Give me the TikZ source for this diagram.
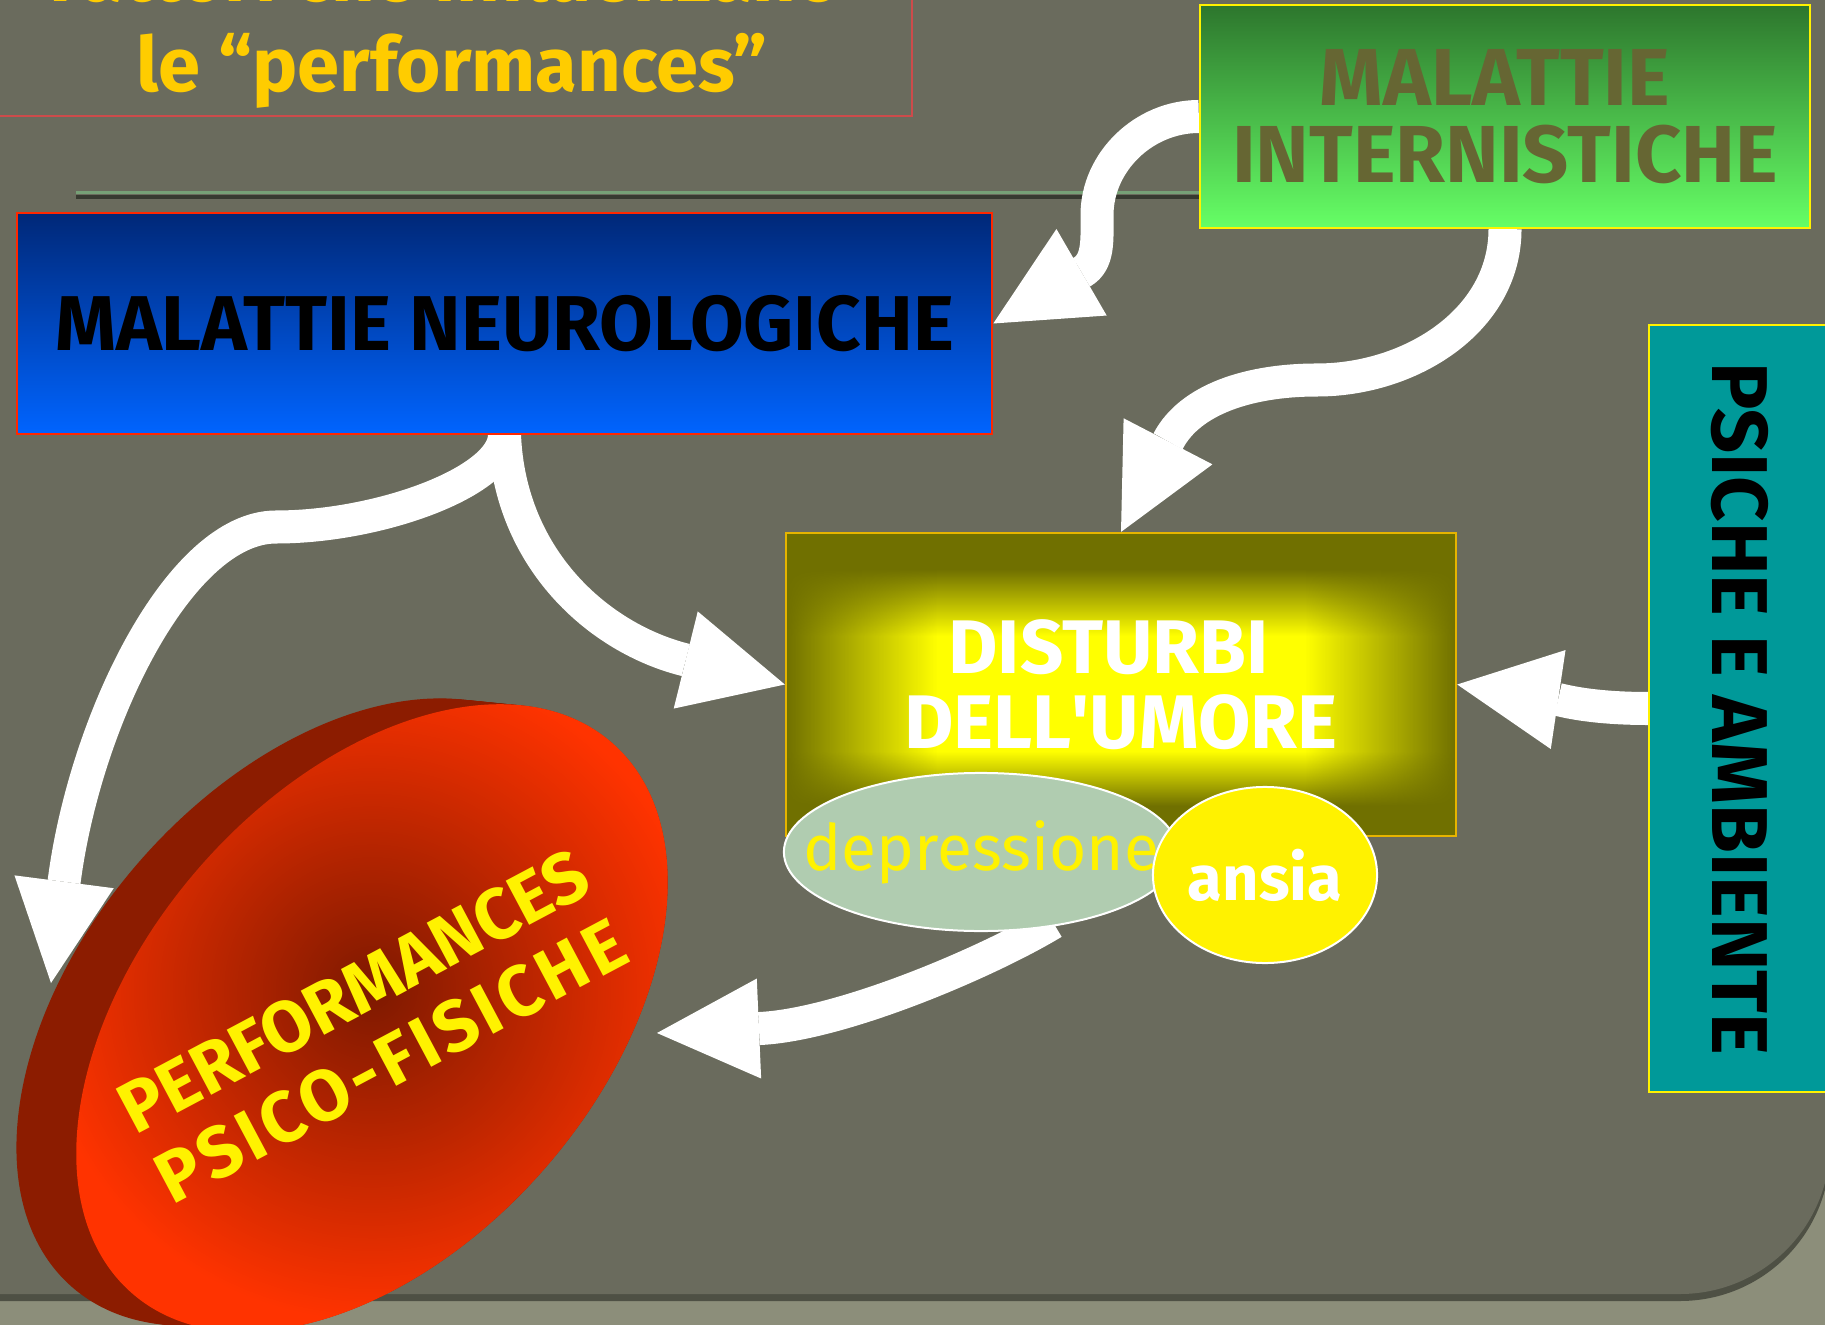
\documentclass[tikz,border=0pt]{standalone}
\usepackage{fontspec}
\setmainfont{Fira Sans}
\usetikzlibrary{shapes.geometric,arrows.meta,positioning,calc,fadings}
\definecolor{panel}{RGB}{106,107,93}
\definecolor{strip}{RGB}{140,142,122}
\definecolor{panelshade}{RGB}{78,80,68}
\definecolor{gold}{RGB}{255,204,0}
\definecolor{titlered}{RGB}{205,75,75}
\definecolor{rulegreen}{RGB}{118,160,118}
\definecolor{ruleshadow}{RGB}{55,58,48}
\definecolor{neurotop}{RGB}{0,40,120}
\definecolor{neurobot}{RGB}{0,100,255}
\definecolor{neuroframe}{RGB}{255,40,0}
\definecolor{interntop}{RGB}{45,118,45}
\definecolor{internbot}{RGB}{102,255,102}
\definecolor{interntext}{RGB}{102,102,51}
\definecolor{umorec}{RGB}{255,255,0}
\definecolor{umoree}{RGB}{112,112,0}
\definecolor{umoreframe}{RGB}{230,180,0}
\definecolor{deprfill}{RGB}{176,204,176}
\definecolor{psichefill}{RGB}{0,153,153}
\definecolor{discbright}{RGB}{255,51,0}
\definecolor{discdeep}{RGB}{125,25,0}
\definecolor{discrim}{RGB}{140,28,0}
\pgfdeclarelayer{back}
\pgfdeclarelayer{bg}
\pgfsetlayers{back,bg,main}
\pgfdeclareverticalshading{umorev}{100bp}{color(0bp)=(umoree); color(30bp)=(umoree); color(39bp)=(umorec); color(58bp)=(umorec); color(69bp)=(umoree); color(100bp)=(umoree)}
\tikzfading[name=fadeleft,left color=transparent!0,right color=transparent!100]
\tikzfading[name=faderight,left color=transparent!100,right color=transparent!0]

\begin{document}
\begin{tikzpicture}[x=0.01cm,y=-0.01cm,
  every node/.style={font=\bfseries},
  box/.style={rectangle,inner sep=0pt,line width=0.02cm},
  titletext/.style={text=gold,font=\bfseries\fontsize{21.6pt}{25pt}\selectfont},
  umoreglow/.style={path picture={
    \shade[shading=umorev]
      (path picture bounding box.north west) rectangle (path picture bounding box.south east);
    \fill[umoree,path fading=fadeleft]
      (path picture bounding box.north west) rectangle ([xshift=1.51cm]path picture bounding box.south west);
    \fill[umoree,path fading=faderight]
      ([xshift=-1.51cm]path picture bounding box.north east) rectangle (path picture bounding box.south east);}},
  bigarrow/.style={white,line width=0.33cm,line join=round,-{Triangle[length=1.02cm,width=1cm,line width=0pt]}}]
\useasboundingbox (0,0) rectangle (1825,1325);
\begin{pgfonlayer}{back}
\fill[strip] (0,0) rectangle (1825,1325);
\fill[panelshade] (-60,-60) -- (1830,-60) [rounded corners=1.5cm] -- (1830,1301) [sharp corners] -- (-60,1301) -- cycle;
\fill[panel] (-60,-60) -- (1830,-60) [rounded corners=1.5cm] -- (1830,1294) [sharp corners] -- (-60,1294) -- cycle;
\draw[ruleshadow,line width=0.04cm] (76,197) -- (1200,197);
\draw[rulegreen,line width=0.03cm] (76,193) -- (1200,193);
\end{pgfonlayer}
\draw[titlered,line width=0.02cm] (-10,-10) rectangle (912,116);
\node[titletext,anchor=base] (title1) at (445,2) {Fattori che influenzano};
\node[titletext,anchor=base] (title2) at (452,92) {le “performances”};
\node[box,draw=neuroframe,top color=neurotop,bottom color=neurobot,
  minimum width=9.75cm,minimum height=2.21cm,
  font=\bfseries\fontsize{22.1pt}{25pt}\selectfont] (neuro) at (504.5,323.5) {MALATTIE NEUROLOGICHE};
\node[box,draw=yellow,top color=interntop,bottom color=internbot,text=interntext,
  minimum width=6.1cm,minimum height=2.23cm,align=center,
  font=\bfseries\fontsize{23pt}{22pt}\selectfont] (intern) at (1505,116.5) {MALATTIE\hspace*{0.2cm}\\INTERNISTICHE};
\node[box,draw=umoreframe,umoreglow,text=white,
  minimum width=6.7cm,minimum height=3.03cm,align=center,
  font=\bfseries\fontsize{21.6pt}{21.5pt}\selectfont] (umore) at (1121,684.5) {DISTURBI\hspace*{0.25cm}\\DELL\textquotesingle UMORE};
\node[ellipse,draw=white,fill=deprfill,line width=0.02cm,inner sep=0pt,
  minimum width=3.94cm,minimum height=1.58cm,text=yellow,
  font=\mdseries\fontsize{18.2pt}{20pt}\selectfont] (depr) at (981,852) {\makebox[0pt]{depressione}};
\node[ellipse,draw=white,fill=yellow,line width=0.02cm,inner sep=0pt,
  minimum width=2.24cm,minimum height=1.76cm,text=white,
  font=\bfseries\fontsize{18pt}{20pt}\selectfont] (ansia) at (1265,875) {\makebox[0pt]{ansia}};
\node[box,draw=yellow,fill=psichefill,minimum width=1.81cm,minimum height=7.67cm,
  font=\bfseries\fontsize{22.5pt}{23pt}\selectfont] (psiche) at (1739.5,708.5) {\rotatebox{-90}{PSICHE E AMBIENTE}};
\foreach \s in {0,1,...,12}{
  \pgfmathsetmacro\cx{312+5*\s}\pgfmathsetmacro\cy{1012+0.5*\s}
  \fill[discrim,rotate around={48.9:(\cx,\cy)}] (\cx,\cy) ellipse (365 and 229);}
\node[ellipse,rotate=48.9,inner sep=0pt,minimum width=7.3cm,minimum height=4.58cm,
  inner color=discdeep,outer color=discbright] (perf) at (372,1018) {};
\node[rotate=28,align=center,text=yellow,
  font=\bfseries\fontsize{20.5pt}{22.5pt}\selectfont] (perftext) at (372,1026)
  {PERFORMANCES\\{\addfontfeature{LetterSpace=6}PSICO-FISICHE}};
\coordinate (perfN) at (51,983);
\coordinate (perfE) at (657,1033);
\begin{pgfonlayer}{bg}
\draw[bigarrow] (intern.west) .. controls +(-55,0) and +(0,-53) .. (1097,215)
  .. controls +(0,25) and +(17,-10) .. (1082,272) -- (neuro.east);
\draw[bigarrow] (intern.south) .. controls +(0,92) and +(93,0) .. (1317,380)
  .. controls +(-67,0) and +(69,-133) .. (umore.north);
\draw[bigarrow] (neuro.south) .. controls +(0,46) and +(104,0) .. (276,527)
  .. controls +(-96,0) and +(34,-263) .. (perfN);
\draw[bigarrow] (neuro.south) .. controls +(5,124) and +(-186,-46) .. (umore.west);
\draw[bigarrow] (psiche.west) .. controls +(-59,0) and +(104,15.5) .. (umore.east);
\draw[bigarrow,shorten <=-0.1cm] (depr.-50) .. controls +(-58,35) and +(183,-8) .. (perfE);
\end{pgfonlayer}
\end{tikzpicture}
\end{document}
